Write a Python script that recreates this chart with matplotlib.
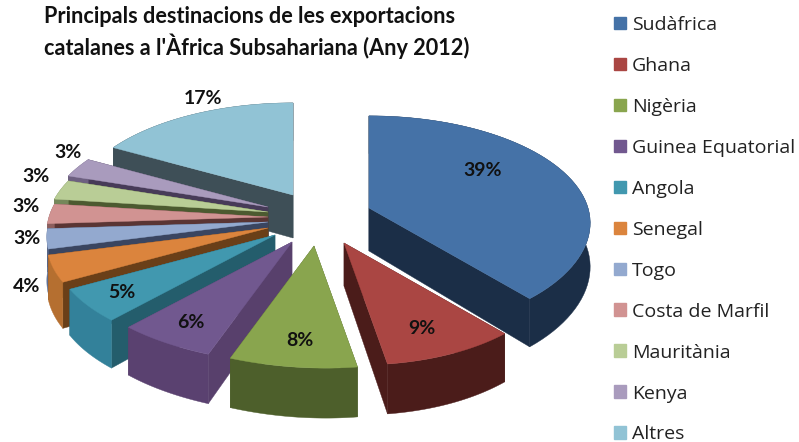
import matplotlib
matplotlib.use("Agg")
import matplotlib.pyplot as plt
import numpy as np
from matplotlib.patches import Patch

OUT_PNG = "out.png"
plt.rcParams["font.family"] = ["Lato", "DejaVu Sans"]

TITLE = "Principals destinacions de les exportacions\ncatalanes a l'Àfrica Subsahariana (Any 2012)"
CATEGORIES = ["Sudàfrica", "Ghana", "Nigèria", "Guinea Equatorial", "Angola", "Senegal", "Togo",
              "Costa de Marfil", "Mauritània", "Kenya", "Altres"]
VALUES = [39, 9, 8, 6, 5, 4, 3, 3, 3, 3, 17]

TOP_COLORS = ["#4572a7", "#aa4643", "#89a54e", "#71588f", "#4198af", "#db843d", "#93a9cf",
              "#d19392", "#b9cd96", "#a99bbd", "#91c3d5"]
RIM_COLORS = ["#1b2e47", "#4b1c1a", "#4d5f2b", "#5a4170", "#33819a", "#b56f30", "#5d6f94",
              "#8c5e5d", "#75875a", "#6d6080", "#3e4f57"]
WALL_COLORS = ["#1b2e47", "#4b1c1a", "#4d5f2b", "#58406c", "#245d6c", "#6a3f18", "#3a4560",
               "#5a3534", "#4c5a30", "#473b58", "#3e4f57"]

# where each exploded slice has its point (pixels)
APEX_X = [369, 344, 314, 292, 275, 268, 268, 268, 268, 268, 293]
APEX_Y = [208, 243, 246, 242, 235, 228, 222, 217, 212, 207, 195]
# percent label positions (pixels)
LABEL_X = [483, 422, 300, 191, 122, 27, 27, 26, 36, 68, 203]
LABEL_Y = [170, 329, 340, 323, 292, 287, 239, 207, 177, 152, 98]

RX, RY, PERSP, DEPTH = 219, 105, 0.14, 43
DRAW_ORDER = [10, 9, 8, 7, 6, 5, 4, 3, 0, 1, 2]


def project(angle, cx, cy):
    """Pie angle (clockwise from 12 o'clock, radians) to pixels, with a bit of perspective."""
    u, v = np.sin(angle), np.cos(angle)
    s = 1 / (1 + PERSP * v)
    x = cx + RX * u * s + 12 * np.where(v < 0, v**4, 0)
    y = cy - RY * v * s
    return x, y, DEPTH * s


fig, ax = plt.subplots(figsize=(7.99, 4.42), dpi=100)
ax.set_position([0, 0, 1, 1])
ax.set_xlim(0, 799)
ax.set_ylim(442, 0)
ax.axis("off")

edges = np.cumsum([0] + VALUES) / sum(VALUES) * 2 * np.pi
for i in DRAW_ORDER:
    cx, cy = APEX_X[i], APEX_Y[i]
    x, y, d = project(np.linspace(edges[i], edges[i + 1], 60), cx, cy)
    # radial walls, then the outer rim, then the top face
    for j in (0, -1):
        ax.fill([cx, x[j], x[j], cx], [cy, y[j], y[j] + d[j], cy + DEPTH], color=WALL_COLORS[i], lw=0.3)
    ax.fill(np.r_[x, x[::-1]], np.r_[y, (y + d)[::-1]], color=RIM_COLORS[i], lw=0.3)
    ax.fill(np.r_[cx, x], np.r_[cy, y], color=TOP_COLORS[i], lw=0.3)

for v, lx, ly in zip(VALUES, LABEL_X, LABEL_Y):
    ax.text(lx, ly, f"{v}%", ha="center", va="center", fontsize=14, fontweight="bold", color="#111111")

ax.text(44, 32.5, TITLE, ha="left", va="center", fontsize=15.6, fontweight="bold", color="#111111", linespacing=1.3)

handles = [Patch(color=c, label=n) for c, n in zip(TOP_COLORS, CATEGORIES)]
ax.legend(handles=handles, loc="upper left", bbox_to_anchor=(614 / 799, 1 - 16 / 442), frameon=False,
          prop={"family": "Open Sans", "size": 14}, labelcolor="#222222", handlelength=0.62, handleheight=0.62,
          handletextpad=0.3, labelspacing=1.18, borderpad=0, borderaxespad=0)

fig.savefig(OUT_PNG, dpi=100)
plt.close(fig)
